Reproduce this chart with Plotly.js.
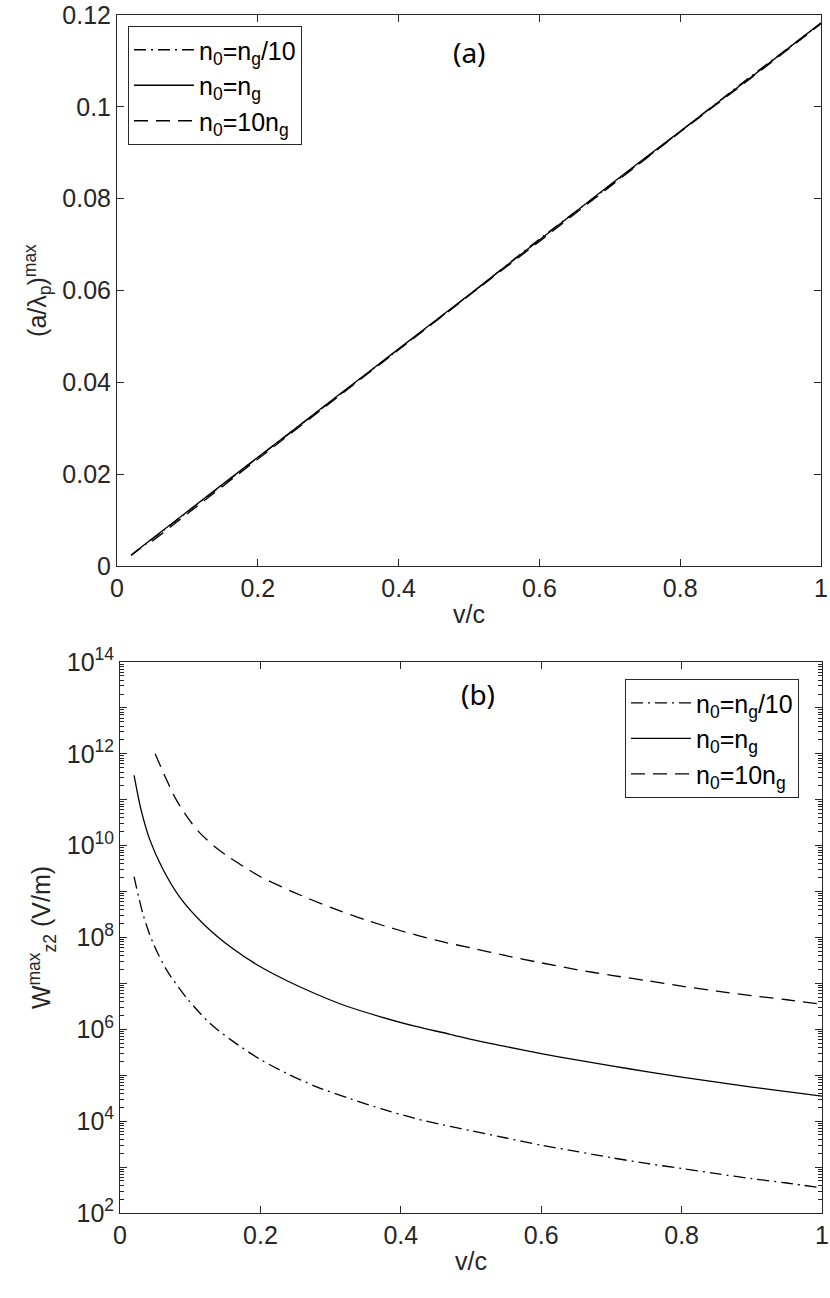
<html><head>
    <meta charset="utf8"/>
    <title>a/lambda and Wz2 vs v/c</title>
    <script src="https://cdn.plot.ly/plotly-3.0.1.min.js"></script>
    <style>
        * { margin: 0px; padding: 0px }
        #plot { width: 830px; height: 1298px }
    </style>
</head><body>
<div id="plot"></div>
<script>
// panel (a): (a/lambda_p)^max vs v/c
var aDashdotX = [0.02, 0.1, 0.2, 0.3, 0.4, 0.5, 0.6, 0.7, 0.8, 0.9, 1.0];
var aDashdotY = [0.0023, 0.0118, 0.0236, 0.0354, 0.0472, 0.0590, 0.0712, 0.0828, 0.0946, 0.1066, 0.1182];
var aSolidX = [0.02, 0.1, 0.2, 0.3, 0.4, 0.5, 0.6, 0.7, 0.8, 0.9, 1.0];
var aSolidY = [0.0024, 0.0119, 0.0237, 0.0355, 0.0473, 0.0591, 0.0710, 0.0830, 0.0947, 0.1064, 0.1183];
var aDashX = [0.05, 0.1, 0.2, 0.3, 0.4, 0.5, 0.6, 0.7, 0.8, 0.9, 1.0];
var aDashY = [0.0054, 0.0114, 0.0233, 0.0352, 0.0471, 0.0589, 0.0707, 0.0826, 0.0945, 0.1062, 0.1181];

// panel (b): Wz2^max (V/m) vs v/c
var bDashdotX = [0.02, 0.033, 0.047, 0.066, 0.095, 0.128, 0.16, 0.2, 0.24, 0.28, 0.33, 0.375, 0.42, 0.46, 0.5, 0.55, 0.6, 0.65, 0.7, 0.75, 0.8, 0.85, 0.9, 0.95, 1.0];
var bDashdotY = [2.1e9, 3.1e8, 7.6e7, 2.0e7, 4.8e6, 1.35e6, 5.6e5, 2.2e5, 1.05e5, 5.6e4, 3.0e4, 1.8e4, 1.15e4, 8.3e3, 6.2e3, 4.3e3, 3.0e3, 2.2e3, 1.6e3, 1.2e3, 9.3e2, 7.2e2, 5.6e2, 4.5e2, 3.5e2];
var bSolidX = [0.02, 0.03, 0.042, 0.06, 0.085, 0.12, 0.16, 0.2, 0.24, 0.28, 0.32, 0.37, 0.42, 0.47, 0.5, 0.55, 0.6, 0.65, 0.7, 0.75, 0.8, 0.85, 0.9, 0.95, 1.0];
var bSolidY = [3.4e11, 6.0e10, 1.4e10, 3.3e9, 7.6e8, 1.9e8, 5.8e7, 2.3e7, 1.1e7, 5.8e6, 3.3e6, 1.9e6, 1.17e6, 7.8e5, 6.0e5, 4.2e5, 2.95e5, 2.15e5, 1.6e5, 1.2e5, 9.1e4, 7.1e4, 5.5e4, 4.4e4, 3.5e4];
var bDashX = [0.05, 0.065, 0.08, 0.1, 0.115, 0.135, 0.156, 0.18, 0.2, 0.245, 0.3, 0.35, 0.4, 0.45, 0.5, 0.55, 0.6, 0.65, 0.7, 0.75, 0.8, 0.85, 0.9, 0.95, 1.0];
var bDashY = [1.0e12, 3.0e11, 1.0e11, 3.4e10, 1.8e10, 9.5e9, 5.5e9, 3.2e9, 2.1e9, 1.0e9, 4.5e8, 2.4e8, 1.4e8, 8.7e7, 5.9e7, 4.0e7, 2.8e7, 2.0e7, 1.5e7, 1.15e7, 8.7e6, 6.8e6, 5.4e6, 4.4e6, 3.5e6];

var names = ['n<sub>0</sub>=n<sub>g</sub>/10', 'n<sub>0</sub>=n<sub>g</sub>', 'n<sub>0</sub>=10n<sub>g</sub>'];
var dashes = ['12px,5px,2px,5px', 'solid', '14px,8px'];

var logTicks = [], logText = [];
for (var p = 2; p <= 14; p++) {
    logTicks.push(Math.pow(10, p));
    logText.push(p % 2 == 0 ? '10<sup>' + p + '</sup>' : '');
}

function line(x, y, i, xa, ya, lg) {
    return {
        x: x, y: y, name: names[i], type: 'scatter', mode: 'lines',
        xaxis: xa, yaxis: ya, legend: lg,
        line: {color: '#000000', width: 1.3, dash: dashes[i], shape: 'spline', smoothing: 0.8}
    };
}

var traces = [
    line(aDashdotX, aDashdotY, 0, 'x', 'y', 'legend'),
    line(aSolidX, aSolidY, 1, 'x', 'y', 'legend'),
    line(aDashX, aDashY, 2, 'x', 'y', 'legend'),
    line(bDashdotX, bDashdotY, 0, 'x2', 'y2', 'legend2'),
    line(bSolidX, bSolidY, 1, 'x2', 'y2', 'legend2'),
    line(bDashX, bDashY, 2, 'x2', 'y2', 'legend2')
];

var axisColor = '#262626';
var font = {family: 'Liberation Sans, Arial, sans-serif', size: 25, color: axisColor};
var baseAxis = {
    showline: true, linecolor: axisColor, linewidth: 1, mirror: 'allticks',
    ticks: 'inside', ticklen: 7, tickcolor: axisColor, tickwidth: 1,
    showgrid: false, zeroline: false, tickfont: font
};
function axis(extra) {
    var a = JSON.parse(JSON.stringify(baseAxis));
    for (var k in extra) a[k] = extra[k];
    return a;
}
var legendBox = {
    bgcolor: '#ffffff', bordercolor: axisColor, borderwidth: 1,
    font: {family: 'Liberation Sans, Arial, sans-serif', size: 25, color: '#000000'},
    xanchor: 'left', yanchor: 'top', tracegroupgap: 0, itemwidth: 60
};
var legend1 = JSON.parse(JSON.stringify(legendBox));
legend1.x = 0.0156; legend1.y = 0.9908;
var legend2 = JSON.parse(JSON.stringify(legendBox));
legend2.x = 0.7206; legend2.y = 0.4457;

var layout = {
    width: 830, height: 1298,
    margin: {l: 117, r: 8, t: 15, b: 85},
    paper_bgcolor: '#ffffff', plot_bgcolor: '#ffffff',
    font: font,
    showlegend: true,
    legend: legend1,
    legend2: legend2,
    xaxis: axis({domain: [0, 0.9986], range: [0, 1], dtick: 0.2, anchor: 'y',
        title: {text: 'v/c', font: font, standoff: 4}}),
    yaxis: axis({domain: [0.540, 1], range: [0, 0.12], dtick: 0.02, anchor: 'x',
        tickformat: '~g',
        title: {text: '(a/λ<sub>p</sub>)<sup>max</sup>', font: font, standoff: 8}}),
    xaxis2: axis({domain: [0.0043, 1], range: [0, 1], dtick: 0.2, anchor: 'y2',
        title: {text: 'v/c', font: font, standoff: 4}}),
    yaxis2: axis({domain: [0, 0.46], type: 'log', range: [2, 14], anchor: 'x2',
        tickmode: 'array', tickvals: logTicks, ticktext: logText,
        minor: {ticks: 'inside', ticklen: 4, tickcolor: axisColor, dtick: 'D1', showgrid: false},
        title: {text: 'W<sup>max</sup><sub>z2</sub> (V/m)', font: font, standoff: 8}}),
    annotations: [
        {text: '(a)', xref: 'x', yref: 'y', x: 0.5, y: 0.112, showarrow: false,
            font: {family: 'Noto Sans, Open Sans, sans-serif', size: 28, color: '#000000'}},
        {text: '(b)', xref: 'x2', yref: 'y2', x: 0.51, y: 13.3, showarrow: false,
            font: {family: 'Noto Sans, Open Sans, sans-serif', size: 28, color: '#000000'}}
    ]
};

Plotly.newPlot('plot', traces, layout, {displayModeBar: false});
</script>
</body></html>
